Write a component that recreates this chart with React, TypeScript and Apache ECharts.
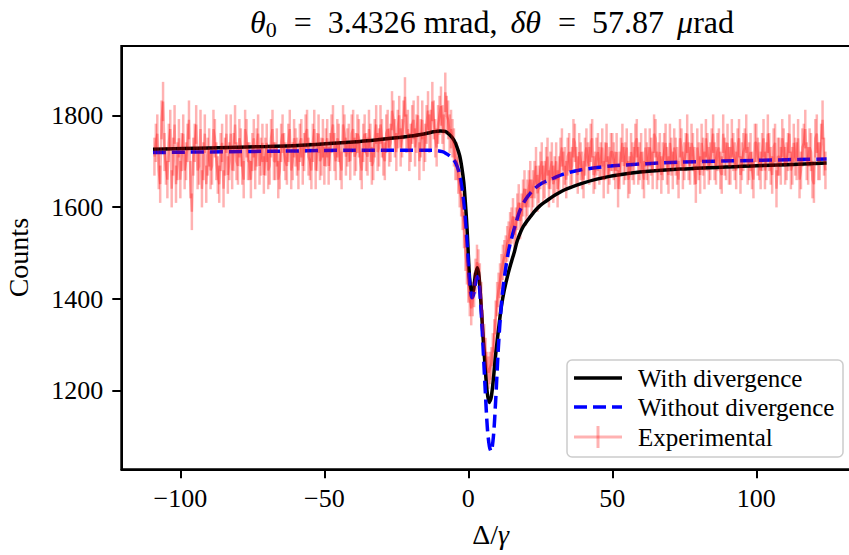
import React, { useEffect, useRef } from "react";
import * as echarts from "echarts";

const xTicks = [-100, -50, 0, 50, 100];
const yTicks = [1200, 1400, 1600, 1800];

// Experimental counts on the integer grid of Δ/γ, starting at -109
const expStart = -109;
const expStep = 1;
const expCounts = [
  1710, 1760, 1650, 1830, 1690, 1740, 1640, 1780, 1700, 1660,
  1760, 1700, 1790, 1590, 1740, 1680, 1770, 1700, 1650, 1730,
  1690, 1750, 1670, 1720, 1640, 1760, 1700, 1680, 1780, 1690,
  1730, 1660, 1750, 1700, 1720, 1680, 1760, 1710, 1670, 1740,
  1690, 1770, 1700, 1660, 1740, 1720, 1690, 1770, 1700, 1730,
  1680, 1750, 1720, 1770, 1700, 1740, 1680, 1760, 1710, 1690,
  1750, 1720, 1780, 1700, 1740, 1680, 1760, 1730, 1700, 1770,
  1720, 1750, 1680, 1760, 1710, 1740, 1700, 1780, 1730, 1750,
  1700, 1770, 1740, 1790, 1720, 1800, 1750, 1840, 1770, 1740,
  1790, 1760, 1700, 1790, 1740, 1810, 1770, 1790, 1730, 1800,
  1780, 1850, 1790, 1770, 1730, 1700, 1640, 1590, 1500, 1430,
  1380, 1420, 1480, 1440, 1340, 1280, 1240, 1260, 1320, 1400,
  1440, 1480, 1500, 1530, 1560, 1540, 1590, 1570, 1620, 1600,
  1640, 1620, 1660, 1630, 1680, 1650, 1690, 1640, 1700, 1670,
  1640, 1710, 1680, 1660, 1720, 1690, 1740, 1670, 1700, 1660,
  1730, 1690, 1750, 1680, 1720, 1700, 1660, 1740, 1690, 1720,
  1680, 1640, 1710, 1690, 1730, 1670, 1700, 1740, 1690, 1720,
  1660, 1700, 1730, 1680, 1750, 1700, 1670, 1720, 1690, 1740,
  1680, 1710, 1660, 1730, 1700, 1760, 1690, 1720, 1650, 1700,
  1740, 1680, 1720, 1700, 1760, 1690, 1730, 1670, 1710, 1740,
  1690, 1720, 1680, 1750, 1700, 1730, 1690, 1720, 1660, 1740,
  1700, 1720, 1680, 1760, 1690, 1730, 1640, 1710, 1750, 1690,
  1720, 1680, 1740, 1700, 1660, 1730, 1770, 1690, 1720, 1650,
  1760, 1700, 1790, 1680,
];

// Experimental counts on the half-integer grid, starting at -108.5
const expHalfCounts = [
  1740, 1680, 1790, 1720, 1660, 1770, 1710, 1650, 1750, 1720,
  1680, 1740, 1660, 1710, 1780, 1690, 1640, 1760, 1710, 1680,
  1770, 1700, 1650, 1740, 1710, 1670, 1760, 1720, 1700, 1750,
  1690, 1770, 1700, 1660, 1750, 1730, 1690, 1740, 1710, 1680,
  1750, 1700, 1730, 1680, 1760, 1700, 1740, 1680, 1750, 1710,
  1740, 1690, 1760, 1710, 1680, 1770, 1720, 1700, 1750, 1730,
  1690, 1760, 1720, 1750, 1700, 1780, 1710, 1740, 1760, 1710,
  1760, 1700, 1740, 1720, 1770, 1690, 1750, 1720, 1780, 1710,
  1760, 1730, 1810, 1750, 1770, 1730, 1790, 1760, 1720, 1780,
  1730, 1800, 1750, 1720, 1780, 1760, 1830, 1750, 1780, 1820,
  1760, 1800, 1760, 1750, 1700, 1670, 1620, 1550, 1470, 1400,
  1400, 1450, 1470, 1400, 1310, 1250, 1250, 1290, 1360, 1420,
  1460, 1490, 1520, 1550, 1580, 1560, 1610, 1590, 1640, 1620,
  1660, 1640, 1690, 1650, 1700, 1660, 1710, 1680, 1650, 1700,
  1670, 1730, 1690, 1710, 1680, 1750, 1690, 1720, 1680, 1710,
  1700, 1740, 1670, 1710, 1690, 1730, 1700, 1670, 1720, 1700,
  1720, 1680, 1740, 1700, 1660, 1720, 1690, 1750, 1700, 1680,
  1730, 1690, 1710, 1760, 1680, 1720, 1700, 1740, 1670, 1710,
  1730, 1690, 1750, 1680, 1720, 1700, 1740, 1690, 1730, 1670,
  1710, 1750, 1690, 1730, 1700, 1720, 1680, 1760, 1700, 1690,
  1750, 1700, 1730, 1670, 1720, 1760, 1700, 1680, 1740, 1710,
  1680, 1750, 1700, 1720, 1670, 1740, 1710, 1690, 1730, 1700,
  1760, 1690, 1710, 1750, 1680, 1740, 1700, 1730, 1660, 1750,
  1700, 1740, 1710,
];

// Model "With divergence"
const withX = [
  -109.5, -90, -70, -58, -40, -30, -20, -15, -12, -9.8, -8, -6.4, -5, -4, -3,
  -2.3, -1.6, -1.1, -0.6, -0.3, 0.2, 0.6, 1.2, 1.8, 2.4, 3.1, 3.7, 4.3, 5, 5.8,
  6.5, 7.2, 7.9, 8.6, 9.5, 10.5, 11.5, 12.5, 13.8, 15, 16, 17, 19.1, 22.6, 25,
  27.2, 30, 34.2, 44.6, 56, 73.5, 100, 124.4,
];
const withY = [
  1726, 1729, 1732, 1735, 1742, 1748, 1755, 1760, 1764, 1766, 1765, 1757, 1746,
  1732, 1712, 1688, 1655, 1616, 1570, 1536, 1470, 1435, 1413, 1420, 1450, 1468,
  1450, 1400, 1330, 1255, 1200, 1175, 1185, 1220, 1280, 1335, 1385, 1420, 1455,
  1482, 1503, 1527, 1558, 1588, 1604, 1614, 1626, 1640, 1661, 1674, 1683, 1690,
  1696,
];

// Model "Without divergence"
const withoutX = [
  -109.5, -65, -40, -12.3, -9, -7.5, -6, -4.6, -3.7, -2.9, -2.3, -1.7, -1.1,
  -0.6, 0.3, 0.8, 1.2, 1.8, 2.5, 3.1, 3.7, 4.3, 5, 5.8, 6.6, 7.3, 7.9, 8.7, 9.5,
  10.3, 11, 11.8, 12.7, 13.8, 15, 16.5, 18, 20, 22.6, 25.5, 29.5, 33, 38.8, 50.3,
  73.5, 100, 124.4,
];
const withoutY = [
  1719, 1722, 1724, 1724, 1721, 1716, 1709, 1699, 1686, 1667, 1645, 1616, 1578,
  1536, 1449, 1415, 1403, 1410, 1435, 1449, 1435, 1390, 1310, 1210, 1120, 1080,
  1069, 1100, 1180, 1280, 1350, 1410, 1455, 1500, 1532, 1565, 1594, 1618, 1638,
  1652, 1663, 1672, 1681, 1690, 1698, 1702, 1705,
];

const legendLabels = ["With divergence", "Without divergence", "Experimental"];

const SERIF = '"Liberation Serif", "Times New Roman", serif';
const RED_A = "rgba(255,0,0,0.3)";

export default function App() {
  const ref = useRef<HTMLDivElement>(null);

  useEffect(() => {
    document.body.style.margin = "0";
    const chart = echarts.init(ref.current!, null, { renderer: "svg" });

    const expData: number[][] = [];
    expCounts.forEach((c, i) => {
      const x = expStart + i * expStep;
      expData.push([x, c]);
      if (i < expHalfCounts.length) expData.push([x + expStep / 2, expHalfCounts[i]]);
    });
    const errData = expData.map((d) => [d[0], d[1], Math.sqrt(d[1])]);
    const withData = withX.map((x, i) => [x, withY[i]]);
    const withoutData = withoutX.map((x, i) => [x, withoutY[i]]);

    const tickFont = { fontFamily: SERIF, fontSize: 26, color: "#000" };
    const fmt = (v: number) => (v < 0 ? "\u2212" + Math.abs(v) : String(v));

    const rowY = [378, 407, 437];
    const legendFont = `25px ${SERIF}`;

    chart.setOption({
      animation: false,
      backgroundColor: "#fff",
      title: {
        text: "{i|θ}{s|0}{eq|=}3.4326 mrad,{gi|δθ}{eq|=}57.87{gi|μ}rad",
        left: 487,
        top: -1,
        textAlign: "center",
        textStyle: {
          fontFamily: SERIF,
          fontSize: 32,
          fontWeight: "normal",
          color: "#000",
          rich: {
            i: { fontFamily: SERIF, fontSize: 32, fontStyle: "italic", color: "#000" },
            gi: { fontFamily: SERIF, fontSize: 32, fontStyle: "italic", color: "#000", padding: [0, 0, 0, 13] },
            eq: { fontFamily: SERIF, fontSize: 32, color: "#000", padding: [0, 16, 0, 17] },
            s: { fontFamily: SERIF, fontSize: 22, color: "#000", padding: [14, 0, 0, 0] },
          },
        },
      },
      grid: {
        left: 121.3,
        top: 46,
        right: -11,
        bottom: 85.7,
        containLabel: false,
        outerBoundsMode: "none",
        show: true,
        borderColor: "#000",
        borderWidth: 2,
      },
      xAxis: {
        type: "value",
        min: -120.5,
        max: 136,
        name: "Δ/{i|γ}",
        nameLocation: "middle",
        nameGap: 51,
        nameTextStyle: {
          fontFamily: SERIF,
          fontSize: 28,
          color: "#000",
          rich: { i: { fontFamily: SERIF, fontSize: 28, fontStyle: "italic", color: "#000" } },
        },
        splitLine: { show: false },
        axisLine: { show: true, onZero: false, lineStyle: { color: "#000", width: 2 } },
        axisTick: { show: true, length: 9, lineStyle: { color: "#000", width: 2 }, customValues: xTicks },
        axisLabel: { ...tickFont, margin: 16, formatter: fmt, customValues: xTicks },
      },
      yAxis: {
        type: "value",
        min: 1029.6,
        max: 1950.8,
        name: "Counts",
        nameLocation: "middle",
        nameGap: 89,
        nameRotate: 90,
        nameTextStyle: { fontFamily: SERIF, fontSize: 28, color: "#000" },
        splitLine: { show: false },
        axisLine: { show: true, onZero: false, lineStyle: { color: "#000", width: 2 } },
        axisTick: { show: true, length: 9, lineStyle: { color: "#000", width: 2 }, customValues: yTicks },
        axisLabel: { ...tickFont, margin: 18, formatter: fmt, customValues: yTicks },
      },
      series: [
        {
          name: legendLabels[0],
          type: "line",
          data: withData,
          showSymbol: false,
          smooth: 0.3,
          lineStyle: { color: "#000", width: 3.5 },
          z: 2,
        },
        {
          name: legendLabels[1],
          type: "line",
          data: withoutData,
          showSymbol: false,
          smooth: 0.3,
          lineStyle: { color: "#0000ff", width: 3.5, type: [13, 6] },
          z: 2,
        },
        {
          name: legendLabels[2],
          type: "line",
          data: expData,
          showSymbol: false,
          lineStyle: { color: RED_A, width: 2.5 },
          z: 2,
        },
        {
          name: legendLabels[2] + " error",
          type: "custom",
          data: errData,
          encode: { x: 0, y: 1 },
          z: 2,
          renderItem: (params: any, api: any) => {
            const x = api.value(0);
            const y = api.value(1);
            const e = api.value(2);
            const p1 = api.coord([x, y - e]);
            const p2 = api.coord([x, y + e]);
            return {
              type: "line",
              shape: { x1: p1[0], y1: p1[1], x2: p2[0], y2: p2[1] },
              style: { stroke: RED_A, lineWidth: 2.5 },
            };
          },
        },
      ],
      graphic: [
        {
          type: "rect",
          z: 100,
          shape: { x: 567, y: 360, width: 276, height: 97, r: 5 },
          style: { fill: "rgba(255,255,255,0.8)", stroke: "#cccccc", lineWidth: 1.5 },
        },
        {
          type: "line",
          z: 101,
          shape: { x1: 574, y1: rowY[0], x2: 622, y2: rowY[0] },
          style: { stroke: "#000", lineWidth: 3.5 },
        },
        {
          type: "line",
          z: 101,
          shape: { x1: 574, y1: rowY[1], x2: 622, y2: rowY[1] },
          style: { stroke: "#0000ff", lineWidth: 3.5, lineDash: [13, 6] },
        },
        {
          type: "line",
          z: 101,
          shape: { x1: 574, y1: rowY[2], x2: 622, y2: rowY[2] },
          style: { stroke: RED_A, lineWidth: 3 },
        },
        {
          type: "line",
          z: 101,
          shape: { x1: 598, y1: rowY[2] - 11, x2: 598, y2: rowY[2] + 11 },
          style: { stroke: RED_A, lineWidth: 3 },
        },
        ...legendLabels.map((t, i) => ({
          type: "text",
          z: 101,
          style: {
            text: t,
            x: 638,
            y: rowY[i],
            font: legendFont,
            fill: "#000",
            verticalAlign: "middle",
          },
        })),
      ],
    });

    return () => chart.dispose();
  }, []);

  return <div ref={ref} style={{ width: 849, height: 555 }} />;
}
